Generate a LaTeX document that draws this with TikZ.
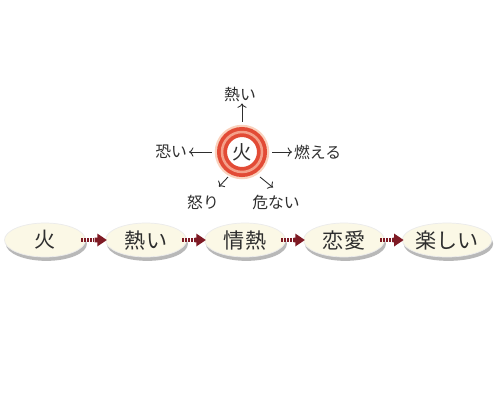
\documentclass[tikz,border=0pt]{standalone}
\usepackage{fontspec}
\setmainfont{Noto Sans CJK JP}
\usetikzlibrary{shapes.geometric}
\usetikzlibrary{shadows}
\usetikzlibrary{calc}
\usetikzlibrary{arrows.meta}

\definecolor{ringred}{HTML}{E24B36}
\definecolor{ringpale}{HTML}{F4A08A}
\definecolor{ringglow}{HTML}{FAD2BE}
\definecolor{ovalfill}{HTML}{FBF8E6}
\definecolor{arrowred}{HTML}{7E1A24}
\definecolor{ink}{HTML}{2E2E2E}

\tikzset{
  word/.style={ellipse, fill=ovalfill, draw=black!8, minimum width=1.62cm, minimum height=0.68cm,
    inner sep=0pt, text=ink, font=\fontsize{12}{14}\selectfont,
    drop shadow={shadow xshift=0.8pt, shadow yshift=-2.2pt, fill=black!55, opacity=0.5}},
  assoc/.style={text=ink, inner sep=1pt, font=\fontsize{9}{11}\selectfont},
  spoke/.style={draw=ink, line width=0.5pt, -{To[length=2.5pt]}, shorten <=8.5pt},
  stripe/.style={draw=arrowred, line width=2.6pt, dash pattern=on 1pt off 0.6pt, shorten <=-2.5pt},
  chainhead/.style={draw=arrowred, line width=2.6pt, shorten >=-1pt,
    -{Triangle[length=5.5pt,width=7pt]}}
}

\begin{document}
\begin{tikzpicture}[x=0.02cm,y=-0.02cm]
      \useasboundingbox[fill=white] (0,0) rectangle (500,400);

      % fire ring
      \node[circle,minimum size=0.6cm,inner sep=0pt,text=ink,
            font=\fontsize{11}{13}\selectfont] (fire) at (242,152) {火};
      \draw[ringglow,line width=0.07cm] (fire.center) circle (25.5);
      \draw[ringred,line width=0.2cm] (fire.center) circle (20);
      \draw[ringpale,line width=0.05cm] (fire.center) circle (20);

      \node[assoc] (hot) at (240,94) {熱い};
      \node[assoc,anchor=east] (fear) at (189,152) {恐い};
      \node[assoc,anchor=west] (burn) at (292,152) {燃える};
      \node[assoc] (anger) at (203,202) {怒り};
      \node[assoc] (danger) at (276,202) {危ない};

      \draw[spoke] (fire) -- (fire |- hot.south);
      \draw[spoke] (fire) -- (fear);
      \draw[spoke] (fire) -- (burn);
      \draw[spoke,shorten <=0pt] ($(fire.center)+(-14,25)$) -- ($(anger.north east)+(-2,-6)$);
      \draw[spoke,shorten <=0pt] ($(fire.center)+(18,25)$) -- ($(danger.north)+(-3,-5)$);

      % chain of words
      \node[word] (w1) at (45,240) {火};
      \node[word] (w2) at (146,240) {熱い};
      \node[word] (w3) at (245,240) {情熱};
      \node[word] (w4) at (344,240) {恋愛};
      \node[word] (w5) at (447,240) {楽しい};

      \foreach \a/\b in {w1/w2,w2/w3,w3/w4,w4/w5} {
        \draw[stripe] (\a.east) -- ($(\a.east)!0.5!(\b.west)$);
        \draw[chainhead] ($(\a.east)!0.45!(\b.west)$) -- (\b.west);
      }
\end{tikzpicture}
\end{document}
